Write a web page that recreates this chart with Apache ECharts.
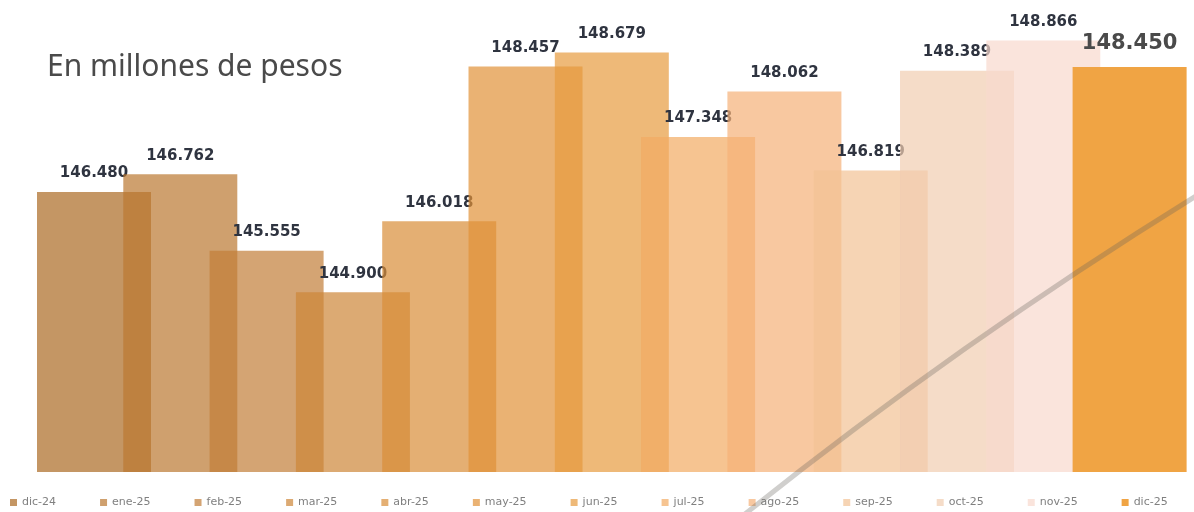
<!DOCTYPE html>
<html>
<head>
<meta charset="utf-8">
<script src="https://cdn.jsdelivr.net/npm/echarts@6/dist/echarts.min.js"></script>
<style>
html,body{margin:0;padding:0;background:#fff;}
#chart{width:1194px;height:512px;}
</style>
</head>
<body>
<div id="chart"></div>
<script>
var categories = ['dic-24','ene-25','feb-25','mar-25','abr-25','may-25','jun-25','jul-25','ago-25','sep-25','oct-25','nov-25','dic-25'];
var values = [146.480,146.762,145.555,144.900,146.018,148.457,148.679,147.348,148.062,146.819,148.389,148.866,148.450];
var titleText = 'En millones de pesos';

var barColors = [
  'rgba(171,105,34,0.7)','rgba(186,119,48,0.7)','rgba(194,126,55,0.7)','rgba(205,134,55,0.7)',
  'rgba(216,141,55,0.7)','rgba(225,145,55,0.7)','rgba(231,155,62,0.7)','rgba(242,171,98,0.7)',
  'rgba(245,177,119,0.7)','rgba(242,194,148,0.7)','rgba(241,205,176,0.7)','rgba(248,216,205,0.7)',
  'rgba(240,164,68,1)'
];

var chart = echarts.init(document.getElementById('chart'), null, {renderer:'canvas'});
var series = categories.map(function(name, i){
  var last = i === categories.length - 1;
  return {
    name: name,
    type: 'bar',
    data: [[i, values[i]]],
    barWidth: 114,
    barGap: '-100%',
    z: 2 + i,
    itemStyle: { color: barColors[i] },
    label: {
      show: true,
      position: 'top',
      distance: last ? 13 : 11,
      formatter: function(p){ return p.value[1].toFixed(3); },
      fontFamily: 'DejaVu Sans',
      fontWeight: 'bold',
      fontSize: last ? 21 : 15,
      color: last ? '#4a4a4a' : '#2f3440'
    }
  };
});

chart.setOption({
  animation: false,
  title: {
    text: titleText,
    left: 47, top: 52, padding: 0,
    textStyle: { fontFamily: 'Noto Sans', fontWeight: 'normal', fontSize: 30, color: '#4a4a4a' }
  },
  grid: { left: 37, right: 7, top: 20, bottom: 40 },
  xAxis: {
    type: 'value', min: -0.6605, max: 12.665, show: false
  },
  yAxis: {
    type: 'value', min: 142.07, max: 149.19, show: false
  },
  legend: {
    data: categories,
    left: 10, bottom: 4, padding: 0,
    icon: 'rect', itemWidth: 7, itemHeight: 7, itemGap: 44,
    textStyle: { fontSize: 11, color: '#808080', fontFamily: 'DejaVu Sans' }
  },
  series: series,
  graphic: [{
    type: 'bezierCurve',
    z: 100,
    shape: { x1: 745, y1: 514, cpx1: 960, cpy1: 342, x2: 1196, y2: 196 },
    style: { stroke: 'rgba(100,95,90,0.3)', lineWidth: 5, fill: null }
  }]
});
</script>
</body>
</html>
